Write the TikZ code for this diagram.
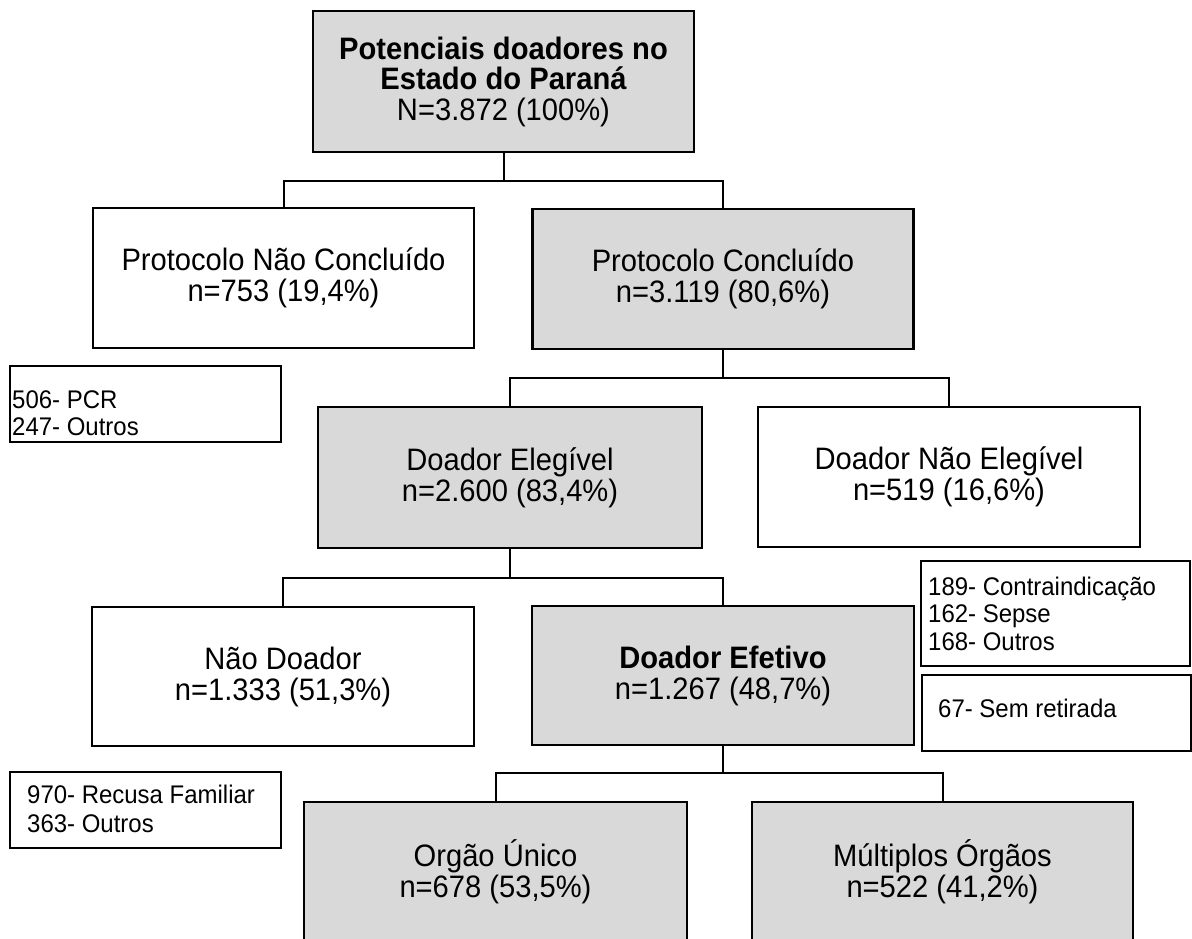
\documentclass[tikz,border=0pt]{standalone}
\usepackage{fontspec}
\setmainfont{Liberation Sans}
\newfontfamily\narrowsans{Liberation Sans}[FakeStretch=0.94]
\newcommand\boxfont{\narrowsans\fontsize{31}{31}\selectfont}
\newcommand\notefont{\narrowsans\fontsize{25.5}{27.5}\selectfont}
\definecolor{boxgray}{HTML}{D9D9D9}
\tikzset{
  mainbox/.style={draw=black, line width=2.5pt, minimum width=381pt, minimum height=140pt,
    align=center, font=\boxfont, inner sep=0pt},
  graybox/.style={mainbox, fill=boxgray},
  whitebox/.style={mainbox, fill=white},
  notebox/.style={draw=black, line width=2pt, inner sep=0pt, fill=white},
  notetext/.style={font=\notefont, align=left, anchor=west, inner sep=0pt},
  link/.style={draw=black, line width=2pt}
}
\begin{document}
\begin{tikzpicture}[x=1pt, y=-1pt]
\useasboundingbox (0,0) rectangle (1192,939);
\clip (0,0) rectangle (1192,939);

% main boxes
\node[graybox, minimum height=141pt, font=\narrowsans\fontsize{31}{30.5}\selectfont] (top) at (503.5,81.5)
  {\textbf{Potenciais doadores no}\\\textbf{Estado do Paraná}\\N=3.872 (100\%)};
\node[whitebox] (pnc) at (283.5,278) {Protocolo Não Concluído\\n=753 (19,4\%)};
\node[graybox] (pc) at (723,279) {Protocolo Concluído\\n=3.119 (80,6\%)};
\node[graybox, minimum width=384pt, minimum height=141pt] (de) at (510,477.5) {Doador Elegível\\n=2.600 (83,4\%)};
\node[whitebox, minimum width=382pt] (dne) at (949,477) {Doador Não Elegível\\n=519 (16,6\%)};
\node[whitebox, minimum width=382pt, minimum height=139pt] (nd) at (283,676.5) {Não Doador\\n=1.333 (51,3\%)};
\node[graybox, minimum width=382pt, minimum height=139pt] (def) at (723,675.5) {\textbf{Doador Efetivo}\\n=1.267 (48,7\%)};
\node[graybox, minimum width=383pt, minimum height=139pt] (ou) at (495.5,871.5) {Orgão Único\\n=678 (53,5\%)};
\node[graybox, minimum width=381pt, minimum height=139pt] (mo) at (942.5,871.5) {Múltiplos Órgãos\\n=522 (41,2\%)};

% connectors
\coordinate (j1) at (503.5,181);
\coordinate (j2) at (723,378);
\coordinate (j3) at (510,578);
\coordinate (j4) at (723,773);
\draw[link] (top.south) -- (j1);
\draw[link] (pnc.north) |- (j1) -| (pc.north);
\draw[link] (pc.south) -- (j2);
\draw[link] (de.north) |- (j2) -| (dne.north);
\draw[link] (de.south) -- (j3);
\draw[link] (nd.north) |- (j3) -| (def.north);
\draw[link] (def.south) -- (j4);
\draw[link] (ou.north) |- (j4) -| (mo.north);

% note boxes
\node[notebox, minimum width=271pt, minimum height=76pt] (na) at (145.5,404) {};
\node[notetext] (ta) at (12,413) {506- PCR\\247- Outros};
\node[notebox, minimum width=269pt, minimum height=105pt] (nb) at (1055.5,613.5) {};
\node[notetext] (tb) at (928,613.5) {189- Contraindicação\\162- Sepse\\168- Outros};
\node[notebox, minimum width=269pt, minimum height=76pt] (nc) at (1056.5,713) {};
\node[notetext] (tc) at (938,708.5) {67- Sem retirada};
\node[notebox, minimum width=271pt, minimum height=76pt] (ndd) at (145.5,810) {};
\node[notetext, font=\narrowsans\fontsize{25.5}{29}\selectfont] (td) at (27,809) {970- Recusa Familiar\\363- Outros};
\end{tikzpicture}
\end{document}
